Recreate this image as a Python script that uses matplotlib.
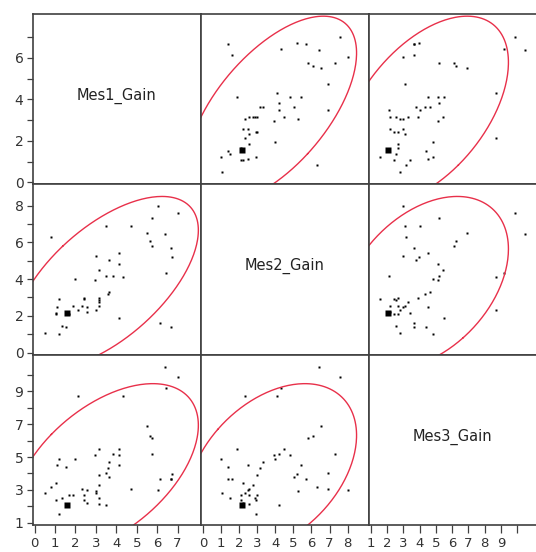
import numpy as np
import matplotlib
matplotlib.use('Agg')
import matplotlib.pyplot as plt

# 
# Data
names = ['Mes1_Gain', 'Mes2_Gain', 'Mes3_Gain']
mes1 = [0.50, 0.81, 1.05, 1.06, 1.12, 1.22, 1.22, 1.36, 1.52, 1.57,
        1.67, 1.86, 1.96, 2.15, 2.31, 2.43, 2.43, 2.56, 2.56, 2.94,
        3.03, 3.03, 3.15, 3.15, 3.15, 3.15, 3.15, 3.48, 3.51, 3.61,
        3.64, 3.64, 3.84, 4.11, 4.11, 4.11, 4.31, 4.74, 5.50, 5.63,
        5.76, 5.76, 6.05, 6.12, 6.36, 6.41, 6.66, 6.71, 6.66, 7.02]
mes2 = [1.06, 6.31, 2.18, 2.09, 2.49, 1.00, 2.93, 1.47, 1.40, 2.13,
        2.11, 2.56, 4.00, 2.29, 2.56, 2.96, 2.91, 2.49, 2.22, 3.93,
        5.27, 2.29, 4.47, 2.98, 2.87, 2.76, 2.56, 4.18, 6.91, 3.17,
        3.31, 5.02, 4.18, 1.87, 4.80, 5.42, 4.11, 6.91, 6.51, 6.09,
        5.82, 7.31, 8.00, 1.60, 6.44, 4.33, 5.69, 5.20, 1.40, 7.60]
mes3 = [2.83, 3.16, 3.44, 2.41, 4.52, 4.85, 1.55, 2.53, 4.38, 2.07,
        2.69, 2.69, 4.85, 8.70, 3.08, 2.71, 2.41, 3.00, 2.22, 5.11,
        2.96, 2.83, 5.46, 3.93, 2.53, 3.28, 2.16, 2.10, 4.05, 4.32,
        4.67, 3.77, 5.21, 5.48, 5.13, 4.52, 8.70, 3.08, 6.89, 6.27,
        6.13, 5.21, 3.00, 3.69, 10.47, 9.19, 3.69, 3.99, 3.69, 9.86]
big_row = 9  # row drawn with the large marker

# 
# Axis setup per variable
lims = [(-0.1, 8.12), (-0.15, 9.16), (0.87, 11.18)]
ticks = [list(range(0, 8)), list(range(0, 9)), list(range(1, 11))]
xlabeled = [list(range(0, 8)), list(range(0, 9)), list(range(1, 10))]
ylabeled = [[0, 2, 4, 6], [0, 2, 4, 6, 8], [1, 3, 5, 7, 9]]

data = [np.array(mes1), np.array(mes2), np.array(mes3)]

W, H = 536, 552
col_edges = [32.5, 200.5, 368.5, 536.5]
row_edges = [14, 184.3, 355.3, 525.0]

frame_col = '#404040'
text_col = '#333333'
ell_col = '#e8304a'
chi2_95 = 5.991

fig = plt.figure(figsize=(W/100, H/100), dpi=100)

for r in range(3):
    for c in range(3):
        left = col_edges[c]/W
        width = (col_edges[c+1]-col_edges[c])/W
        bottom = 1 - row_edges[r+1]/H
        height = (row_edges[r+1]-row_edges[r])/H
        ax = fig.add_axes([left, bottom, width, height])
        ax.set_xlim(*lims[c])
        ax.set_ylim(*lims[r])
        for s in ax.spines.values():
            s.set_color(frame_col)
            s.set_linewidth(1.2)

        # ticks only on outer panels
        if r == 2:
            ax.set_xticks(ticks[c])
            ax.set_xticklabels([str(t) if t in xlabeled[c] else '' for t in ticks[c]])
            ax.tick_params(axis='x', length=5.5, width=0.9, color=frame_col,
                           labelsize=9.5, labelcolor=text_col, pad=3.2)
        else:
            ax.set_xticks([])
        if c == 0:
            ax.set_yticks(ticks[r])
            ax.set_yticklabels([str(t) if t in ylabeled[r] else '' for t in ticks[r]])
            ax.tick_params(axis='y', length=4, width=0.9, color=frame_col,
                           labelsize=10, labelcolor=text_col, pad=2.5)
        else:
            ax.set_yticks([])

        if r == c:
            ax.text(0.5, 0.52, names[r], transform=ax.transAxes, ha='center', va='center',
                    fontsize=10.5, color='#222222')
            continue

        x = data[c]
        y = data[r]
        mask = np.arange(len(x)) != big_row
        ax.plot(x[mask], y[mask], 's', ms=2.0, color='black', mec='none')
        ax.plot(x[big_row], y[big_row], 's', ms=4.5, color='black', mec='none')

        # 95% density ellipse
        mu = np.array([x.mean(), y.mean()])
        cov = np.cov(x, y)
        vals, vecs = np.linalg.eigh(cov)
        t = np.linspace(0, 2*np.pi, 300)
        circ = np.vstack([np.cos(t), np.sin(t)])
        pts = vecs @ (np.sqrt(vals*chi2_95)[:, None] * circ) + mu[:, None]
        ax.plot(pts[0], pts[1], color=ell_col, lw=1.0)

fig.savefig('out.png', dpi=100)
